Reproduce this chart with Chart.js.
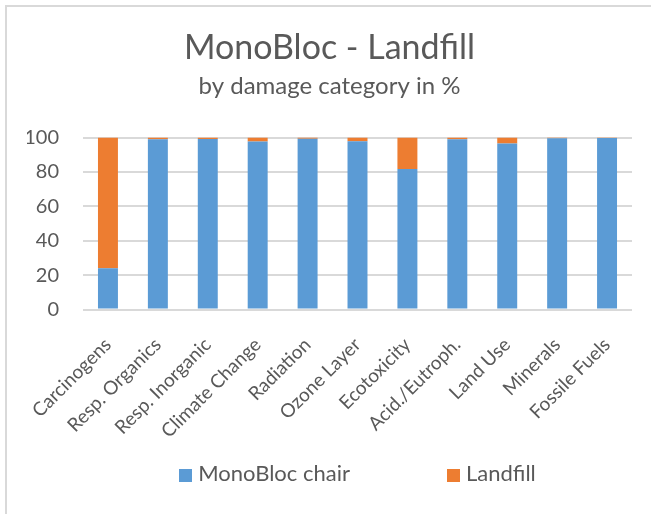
<!DOCTYPE html>
<html>
<head>
<meta charset="utf-8">
<script src="https://cdn.jsdelivr.net/npm/chart.js@4.4.1/dist/chart.umd.min.js"></script>
<style>
  html, body { margin: 0; padding: 0; background: #fff; overflow: hidden; }
  #frame { position: absolute; left: 5px; top: 5px; width: 700px; height: 600px; border: 2px solid #d9d9d9; }
  #wrap { position: absolute; left: 0; top: 0; width: 651px; height: 514px; }
  #legend { position: absolute; left: 83px; width: 549px; top: 460px; display: flex; justify-content: center; gap: 97px;
    font-family: Lato, sans-serif; font-size: 22px; color: #595959; line-height: 26px; }
  #legend span.box { display: inline-block; width: 13px; height: 13px; margin-right: 6px; vertical-align: -1px; }
</style>
</head>
<body>
<div id="frame"></div>
<div id="wrap"><canvas id="myChart"></canvas></div>
<div id="legend"></div>
<script>
// damage categories
let categories = ["Carcinogens", "Resp. Organics", "Resp. Inorganic", "Climate Change", "Radiation",
  "Ozone Layer", "Ecotoxicity", "Acid./Eutroph.", "Land Use", "Minerals", "Fossile Fuels"];

// share in %
let monoBloc = [24, 99, 99.2, 97.7, 99.3, 97.9, 81.7, 99, 96.5, 99.6, 99.8];
let landfill = [76, 1, 0.8, 2.3, 0.7, 2.1, 18.3, 1, 3.5, 0.4, 0.2];

let yTicks = [0, 20, 40, 60, 80, 100];

let seriesNames = ["MonoBloc chair", "Landfill"];
let seriesColors = ["#5B9BD5", "#ED7D31"];

const textColor = "#595959";
const fontName = "Lato";

var ctx = document.getElementById('myChart').getContext('2d');
var myChart = new Chart(ctx, {
  type: 'bar',
  data: {
    labels: categories,
    datasets: [{
      label: seriesNames[0],
      data: monoBloc,
      backgroundColor: seriesColors[0],
      categoryPercentage: 1,
      barPercentage: 0.4
    }, {
      label: seriesNames[1],
      data: landfill,
      backgroundColor: seriesColors[1],
      categoryPercentage: 1,
      barPercentage: 0.4
    }]
  },
  options: {
    responsive: true,
    maintainAspectRatio: false,
    animation: false,
    events: [],
    layout: { padding: { top: 28, left: 27, right: 19, bottom: 64.5 } },
    plugins: {
      title: {
        display: true,
        text: "MonoBloc - Landfill",
        color: textColor,
        font: { family: fontName, size: 34, weight: 'normal' },
        padding: { top: 0, bottom: 0 }
      },
      subtitle: {
        display: true,
        text: "by damage category in %",
        color: textColor,
        font: { family: fontName, size: 24, weight: 'normal' },
        padding: { top: 3, bottom: 37 }
      },
      legend: { display: false },
      tooltip: { enabled: false }
    },
    scales: {
      x: {
        stacked: true,
        grid: { display: false },
        border: { display: false },
        ticks: {
          color: textColor,
          font: { family: fontName, size: 19 },
          minRotation: 45,
          maxRotation: 45,
          padding: 16
        },
        afterFit: function (scale) { scale.height = 140; }
      },
      y: {
        stacked: true,
        min: 0,
        max: 100,
        afterBuildTicks: function (scale) { scale.ticks = yTicks.map(v => ({ value: v })); },
        grid: { color: "#d9d9d9", lineWidth: 2, drawTicks: false },
        border: { display: false },
        ticks: {
          color: textColor,
          font: { family: fontName, size: 20 },
          padding: 24
        },
        afterFit: function (scale) { scale.width = 56; }
      }
    }
  }
});

// legend as plain html under the chart
let legendDiv = document.getElementById('legend');
seriesNames.forEach((name, i) => {
  let item = document.createElement('div');
  let box = document.createElement('span');
  box.className = 'box';
  box.style.background = seriesColors[i];
  item.appendChild(box);
  item.appendChild(document.createTextNode(name));
  legendDiv.appendChild(item);
});
</script>
</body>
</html>
